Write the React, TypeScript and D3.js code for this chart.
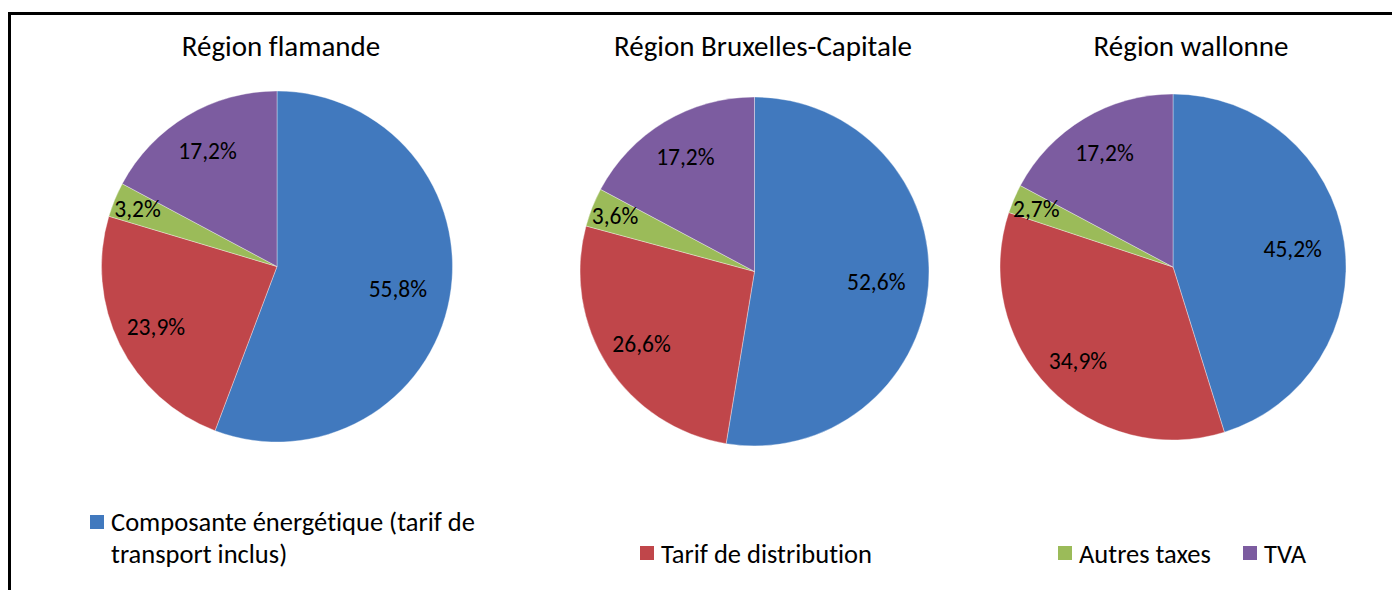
import React from "react";
import * as d3 from "d3";

const regions = ["Région flamande", "Région Bruxelles-Capitale", "Région wallonne"];
const categories = [
  "Composante énergétique (tarif de transport inclus)",
  "Tarif de distribution",
  "Autres taxes",
  "TVA",
];
const flamande = [55.8, 23.9, 3.2, 17.2];
const bruxelles = [52.6, 26.6, 3.6, 17.2];
const wallonne = [45.2, 34.9, 2.7, 17.2];
const seriesByRegion = [flamande, bruxelles, wallonne];
const colors = ["#4179BE", "#C0464A", "#9BBB59", "#7C5CA0"];

const FONT = "Carlito, Calibri, Lato, 'Open Sans', sans-serif";
const noLig = { fontVariantLigatures: "none" as const, fontFeatureSettings: "'liga' 0, 'dlig' 0" };

const pies = [
  { cx: 277, cy: 266.5, r: 175.5, titleX: 281 },
  { cx: 754.5, cy: 271.5, r: 174.5, titleX: 763 },
  { cx: 1173, cy: 267, r: 173, titleX: 1191 },
];

const fmt = (v: number) => v.toFixed(1).replace(".", ",") + "%";

export default function App() {
  const pieGen = d3.pie<number>().sort(null).value((d) => d);
  return (
    <svg width={1392} height={590} style={{ position: "absolute", left: 0, top: 0 }}>
      <rect x={0} y={0} width={1392} height={590} fill="#fff" />
      <rect x={9.5} y={13.5} width={1400} height={600} fill="none" stroke="#000" strokeWidth={3} />
      {seriesByRegion.map((vals, i) => {
        const p = pies[i];
        const arcs = pieGen(vals);
        const arc = d3.arc<d3.PieArcDatum<number>>().innerRadius(0).outerRadius(p.r);
        return (
          <g key={i}>
            <text x={p.titleX} y={56} textAnchor="middle" fontFamily={FONT} fontSize={29} fill="#000" style={noLig}>
              {regions[i]}
            </text>
            <g transform={`translate(${p.cx},${p.cy})`}>
              {arcs.map((a, j) => (
                <path key={j} d={arc(a) || ""} fill={colors[j]} stroke="#fff" strokeWidth={0.6} strokeOpacity={0.6} />
              ))}
              {arcs.map((a, j) => {
                const mid = (a.startAngle + a.endAngle) / 2;
                const frac = a.value < 5 ? 0.86 : j === 0 ? 0.7 : 0.77;
                const x = Math.sin(mid) * p.r * frac;
                const y = -Math.cos(mid) * p.r * frac;
                return (
                  <text key={"l" + j} x={x} y={y} dy="0.35em" textAnchor="middle" fontFamily={FONT} fontSize={23.5} fill="#000">
                    {fmt(a.value)}
                  </text>
                );
              })}
            </g>
          </g>
        );
      })}
      {/* legend */}
      <g fontFamily={FONT} fontSize={26.5} fill="#000" style={noLig}>
        <rect x={90} y={515} width={14} height={14} fill={colors[0]} />
        <text x={111} y={531}>Composante énergétique (tarif de</text>
        <text x={111} y={563}>transport inclus)</text>
        <rect x={640} y={546} width={14} height={14} fill={colors[1]} />
        <text x={661} y={563}>{categories[1]}</text>
        <rect x={1058} y={546} width={14} height={14} fill={colors[2]} />
        <text x={1079} y={563}>{categories[2]}</text>
        <rect x={1243} y={546} width={14} height={14} fill={colors[3]} />
        <text x={1264} y={563}>{categories[3]}</text>
      </g>
    </svg>
  );
}
